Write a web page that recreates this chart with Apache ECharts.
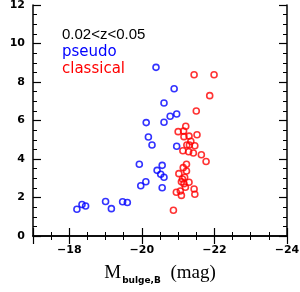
<!DOCTYPE html>
<html><head><meta charset="utf-8">
<script src="https://cdn.jsdelivr.net/npm/echarts@6/dist/echarts.min.js"></script>
<style>html,body{margin:0;padding:0;background:#fff}#c{width:300px;height:292px}</style>
</head><body><div id="c"></div>
<script>
const pseudoX = [-18.21,-18.35,-18.45,-19.00,-19.16,-19.47,-19.60,-19.93,-19.97,-20.11,-20.28,-20.18,-20.12,-20.61,-20.78,-20.96,-20.61,-20.89,-20.39,-20.96,-20.56,-20.42,-20.52,-20.61,-20.56];
const pseudoY = [1.39,1.64,1.56,1.79,1.42,1.78,1.74,3.73,2.61,2.82,4.73,5.14,5.89,5.91,6.22,6.34,6.91,7.65,8.76,4.66,3.67,3.41,3.21,3.05,2.51];
const classicalX = [-21.44,-21.99,-21.87,-21.50,-21.21,-21.00,-21.15,-21.52,-21.30,-21.16,-21.35,-21.24,-21.31,-21.46,-21.13,-21.29,-21.42,-21.64,-21.77,-21.23,-21.14,-21.23,-21.02,-21.18,-21.12,-21.09,-21.30,-21.16,-21.20,-21.44,-20.95,-21.06,-21.46,-21.09,-20.87];
const classicalY = [8.38,8.38,7.29,6.49,5.70,5.42,5.45,5.26,5.19,5.16,4.92,4.73,4.73,4.69,4.43,4.38,4.31,4.22,3.87,3.73,3.55,3.38,3.24,3.05,2.96,2.82,2.79,2.72,2.53,2.44,2.27,2.34,2.17,2.11,1.34];
const xTicks = [-24,-22,-20,-18];
const yTicks = [0,2,4,6,8,10,12];
const legendLines = ['0.02<z<0.05','pseudo','classical'];

const chart = echarts.init(document.getElementById('c'), null, {renderer:'canvas'});
const axisLine = {show:true, lineStyle:{color:'#000', width:1.5}};
const tick = {show:true, inside:true, length:8, lineStyle:{color:'#000', width:1.2}};
const minor = {show:true, length:4, lineStyle:{color:'#000', width:1}};
const lab = {color:'#000', fontFamily:'DejaVu Sans', fontWeight:'bold', fontSize:11};
const fmt = v => String(v).replace('-', '\u2212');
const zip = (a,b) => a.map((v,i)=>[v,b[i]]);
chart.setOption({
  animation:false,
  grid:{left:33, top:5, right:13, bottom:56, containLabel:false, outerBoundsMode:'none'},
  xAxis:[{
    type:'value', min:-24, max:-17, interval:2, inverse:true,
    axisLine, axisTick:tick, minorTick:Object.assign({splitNumber:4},minor), splitLine:{show:false},
    axisLabel:Object.assign({margin:9, showMaxLabel:false, formatter:v=>xTicks.includes(v)?fmt(v):''}, lab),
    name:'{m|M}{s|bulge,B}{m|  (mag)}', nameLocation:'middle', nameGap:26,
    nameTextStyle:{rich:{
      m:{fontFamily:'Liberation Serif', fontSize:19, color:'#000'},
      s:{fontFamily:'DejaVu Sans', fontWeight:'bold', fontSize:9, color:'#000', padding:[14,0,0,1]}
    }}
  },{
    type:'value', min:-24, max:-17, interval:2, inverse:true, position:'top',
    axisLine, axisTick:tick, minorTick:Object.assign({splitNumber:4},minor), splitLine:{show:false},
    axisLabel:{show:false}
  }],
  yAxis:[{
    type:'value', min:0, max:12, interval:2,
    axisLine, axisTick:tick, minorTick:Object.assign({splitNumber:4},minor), splitLine:{show:false},
    axisLabel:Object.assign({margin:8, formatter:v=>yTicks.includes(v)?String(v):''}, lab)
  },{
    type:'value', min:0, max:12, interval:2, position:'right',
    axisLine, axisTick:tick, minorTick:Object.assign({splitNumber:4},minor), splitLine:{show:false},
    axisLabel:{show:false}
  }],
  graphic:[
    {type:'text', left:62, top:27, style:{text:legendLines[0], fill:'#000', font:'15px "Liberation Sans"'}},
    {type:'text', left:62, top:45, style:{text:legendLines[1], fill:'#0000ff', font:'15px "DejaVu Sans"'}},
    {type:'text', left:62, top:62, style:{text:legendLines[2], fill:'#ff0000', font:'15px "DejaVu Sans"'}}
  ],
  series:[
    {type:'scatter', name:'pseudo', data:zip(pseudoX,pseudoY), symbol:'circle', symbolSize:6,
     itemStyle:{color:'rgba(0,0,0,0)', borderColor:'#0000ff', borderWidth:1.6}},
    {type:'scatter', name:'classical', data:zip(classicalX,classicalY), symbol:'circle', symbolSize:6,
     itemStyle:{color:'rgba(0,0,0,0)', borderColor:'#ff0000', borderWidth:1.6}}
  ]
});
</script></body></html>
